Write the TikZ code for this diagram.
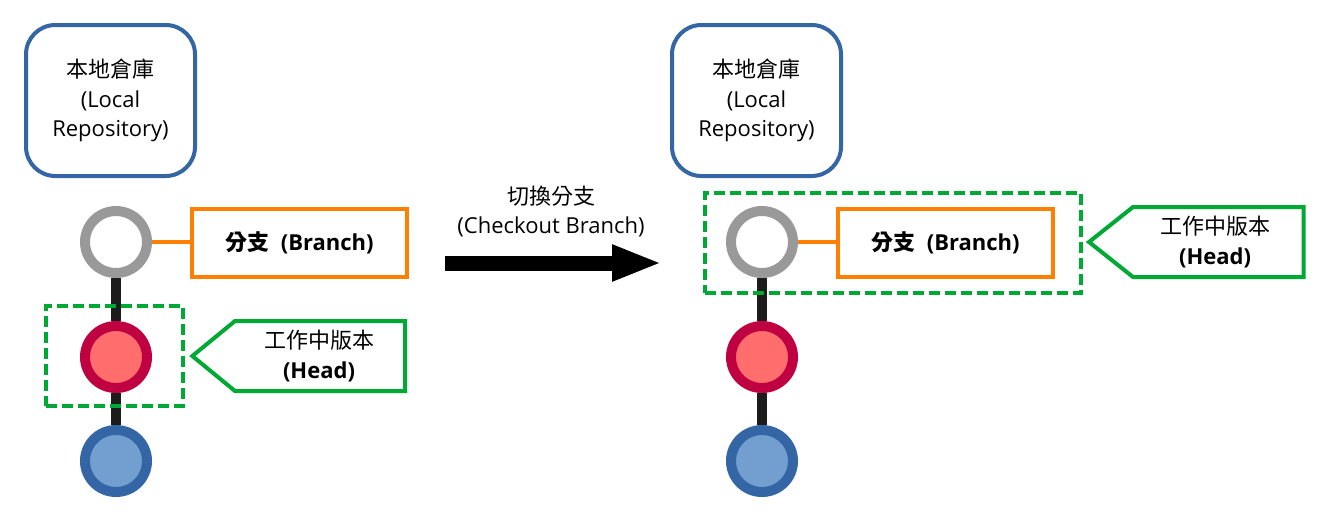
\documentclass[tikz,border=0pt]{standalone}
\usepackage{fontspec}
\setmainfont{Open Sans}
\newfontfamily\cjk{Noto Sans CJK TC}
\usetikzlibrary{arrows.meta,positioning}
\definecolor{repoblue}{HTML}{3465A4}
\definecolor{tipgray}{HTML}{999999}
\definecolor{headred}{HTML}{BF0041}
\definecolor{headfill}{HTML}{FF6D6D}
\definecolor{baseblue}{HTML}{3465A4}
\definecolor{basefill}{HTML}{729FCF}
\definecolor{branchorange}{HTML}{FF8000}
\definecolor{headgreen}{HTML}{00A933}
\definecolor{linkblack}{HTML}{1C1C1C}
\begin{document}
\begin{tikzpicture}[x=0.75pt,y=-0.75pt,
	every node/.style = {font=\fontsize{16.5}{22}\selectfont, align=center, outer sep=0pt},
	repo/.style = {draw=repoblue, line width=3pt, rounded corners=22pt, minimum width=126.75pt, minimum height=113.25pt, inner sep=0pt},
	commit/.style = {circle, line width=7.5pt, minimum size=46.5pt, inner sep=0pt, outer sep=3.75pt},
	tip/.style = {commit, draw=tipgray, fill=white},
	head/.style = {commit, draw=headred, fill=headfill},
	base/.style = {commit, draw=baseblue, fill=basefill},
	branch/.style = {draw=branchorange, line width=3pt, minimum width=161.25pt, minimum height=51pt, inner sep=0pt, font=\fontsize{16.5}{22}\selectfont\bfseries},
	ptr/.style = {minimum width=129pt, minimum height=52.5pt, inner sep=0pt},
	pen/.style = {draw=headgreen, line width=3pt, line join=miter},
	sel/.style = {draw=headgreen, line width=3pt, dash pattern=on 8.25pt off 3.75pt, minimum height=75pt, inner sep=0pt},
	link/.style = {draw=linkblack, line width=7.5pt},
	tie/.style = {draw=branchorange, line width=3pt}]
	\useasboundingbox (0,0) rectangle (1319,519);
	\node[repo] (repoL) at (110.5,100.5) {{\cjk 本地倉庫}\\(Local\\Repository)};
	\node[tip] (tipL) at (116,242) {};
	\node[head] (headcL) at (116,357) {};
	\node[base] (baseL) at (116,461) {};
	\node[branch] (branchL) at (299.5,243) {{\cjk 分支}\ \ (Branch)};
	\node[ptr] (ptrL) at (319,356) {{\cjk 工作中版本}\\\textbf{(Head)}};
	\draw[link] (tipL) -- (headcL);
	\draw[link] (headcL) -- (baseL);
	\draw[tie] (tipL.east) -- (tipL.east -| branchL.west);
	\node[sel, minimum width=102.75pt] (selL) at (114.5,356) {};
	\draw[pen] ([xshift=1.5pt]ptrL.north west) -- (ptrL.north east) -- (ptrL.south east) -- ([xshift=1.5pt]ptrL.south west) -- ([xshift=-30.5pt]ptrL.west) -- cycle;
	\coordinate (go) at (445,263);
	\coordinate (come) at (662,263);
	\draw[draw=black, line width=11.25pt, -{Triangle[length=37.5pt,width=25pt]}] (go) -- (come);
	\node (switch) at (551,211.5) {{\cjk 切換分支}\\(Checkout Branch)};
	\node[repo] (repoR) at (756.5,100.5) {{\cjk 本地倉庫}\\(Local\\Repository)};
	\node[tip] (tipR) at (762,242) {};
	\node[head] (headcR) at (762,357) {};
	\node[base] (baseR) at (762,461) {};
	\node[branch] (branchR) at (945.5,243) {{\cjk 分支}\ \ (Branch)};
	\node[ptr] (ptrR) at (1215,242) {{\cjk 工作中版本}\\\textbf{(Head)}};
	\draw[link] (tipR) -- (headcR);
	\draw[link] (headcR) -- (baseR);
	\draw[tie] (tipR.east) -- (tipR.east -| branchR.west);
	\node[sel, minimum width=282pt] (selR) at (893,243) {};
	\draw[pen] ([xshift=3pt]ptrR.north west) -- ([xshift=1.9pt]ptrR.north east) -- ([xshift=1.9pt]ptrR.south east) -- ([xshift=3pt]ptrR.south west) -- ([xshift=-30pt]ptrR.west) -- cycle;
\end{tikzpicture}
\end{document}
